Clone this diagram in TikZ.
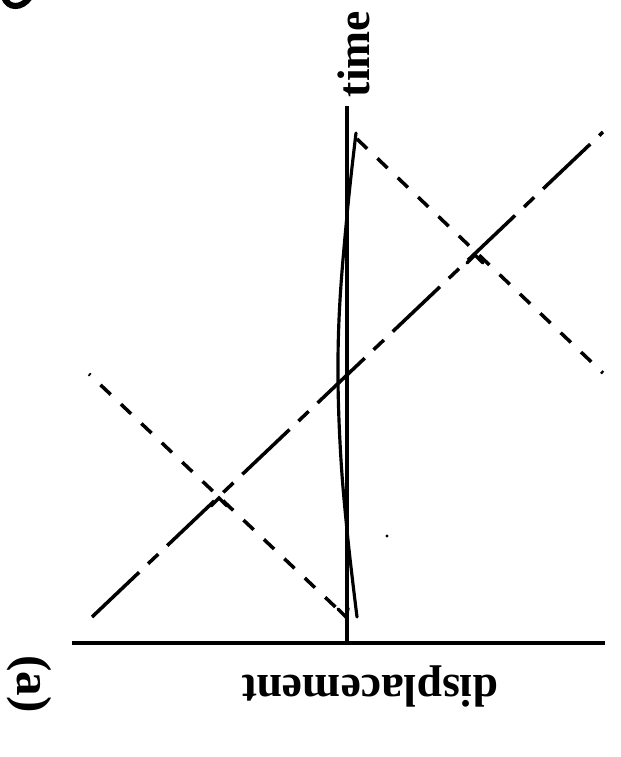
\documentclass[tikz,border=0pt]{standalone}
\usepackage{fontspec}
\setmainfont{Liberation Serif}
\usepackage{tikz}

\begin{document}
\begin{tikzpicture}[x=0.02cm,y=-0.02cm,font=\fontsize{26}{30}\selectfont\bfseries,
    axis/.style={line width=1.8pt},
    wave/.style={line width=1.8pt,line cap=round},
    longdash/.style={line width=2pt,dash pattern=on 37pt off 7pt on 8pt off 7pt},
    shortdash/.style={line width=2pt,dash pattern=on 8pt off 8pt},
    tick/.style={line width=2pt,line cap=round}]
  \useasboundingbox (0,0) rectangle (621,757);
  % axes
  \coordinate (o) at (347,643);
  \coordinate (top) at (347,106);
  \coordinate (xl) at (72,643);
  \coordinate (xr) at (605,643);
  \draw[axis] (xl) -- (xr);
  \draw[axis] (o) -- (top);
  \node[rotate=90,inner sep=0pt] (time) at (354,54) {time};
  \node[rotate=180,inner sep=0pt] (disp) at (370,686) {displacement};
  \node[rotate=-90,inner sep=0pt,font=\fontsize{28}{32}\selectfont\bfseries]
    (tag) at (29,684) {(a)};
  % displacement profile near the axis
  \coordinate (w0) at (356,133);
  \coordinate (w1) at (357,617);
  \draw[wave] plot[smooth,tension=0.6] coordinates
    {(w0) (348,205) (340,300) (338,378) (341,460) (348,540) (w1)};
  % characteristics
  \coordinate (p0) at (92,617);
  \coordinate (p1) at (603,132);
  \coordinate (q0) at (89,374);
  \coordinate (q1) at (346,617);
  \coordinate (r0) at (357,139);
  \coordinate (r1) at (603,373);
  \coordinate (c1) at (219,498);
  \coordinate (c2) at (475,255);
  \draw[longdash] (p0) -- (p1);
  \draw[shortdash,dash phase=7pt] (q0) -- (q1);
  \draw[shortdash] (r0) -- (r1);
  \foreach \c in {c1,c2}{
    \draw[tick] (\c) ++(-8,8) -- (\c) -- ++(8,8);}
  \draw[tick] (q1) ++(-8,-8) -- (q1) -- ++(2,-9);
  \fill (387,536) circle (1.6);
  % piece of the neighbouring label
  \draw[line width=3.5pt] (4,-3) .. controls (8,9) and (22,9) .. (30,-3);
\end{tikzpicture}
\end{document}
